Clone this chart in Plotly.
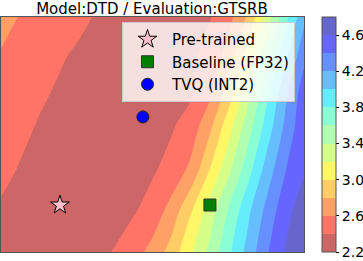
import plotly.graph_objects as go

# ---- data ----
grid_x = [-0.393, -0.267, -0.14, -0.013, 0.113, 0.24, 0.367, 0.493, 0.62,
          0.747, 0.873, 1.0, 1.127, 1.253, 1.38, 1.507, 1.627]
grid_y = [-0.313, -0.033, 0.233, 0.533, 0.72, 0.993, 1.253]

loss_row0 = [2.32, 2.29, 2.27, 2.27, 2.31, 2.36, 2.41, 2.52, 2.67, 2.89, 3.17, 3.45, 3.76, 4.07, 4.38, 4.62, 4.76]
loss_row1 = [2.38, 2.35, 2.32, 2.29, 2.26, 2.30, 2.34, 2.38, 2.48, 2.68, 2.98, 3.30, 3.62, 3.95, 4.26, 4.54, 4.70]
loss_row2 = [2.44, 2.39, 2.35, 2.31, 2.27, 2.27, 2.30, 2.34, 2.38, 2.47, 2.65, 3.01, 3.36, 3.72, 4.09, 4.40, 4.58]
loss_row3 = [2.49, 2.44, 2.39, 2.35, 2.31, 2.27, 2.26, 2.30, 2.34, 2.38, 2.48, 2.75, 3.12, 3.50, 3.88, 4.25, 4.55]
loss_row4 = [2.52, 2.47, 2.42, 2.38, 2.34, 2.30, 2.26, 2.28, 2.32, 2.36, 2.39, 2.58, 2.93, 3.35, 3.78, 4.18, 4.52]
loss_row5 = [2.58, 2.53, 2.48, 2.42, 2.38, 2.34, 2.30, 2.25, 2.29, 2.33, 2.37, 2.46, 2.69, 3.09, 3.53, 3.96, 4.35]
loss_row6 = [2.68, 2.59, 2.54, 2.49, 2.44, 2.39, 2.35, 2.30, 2.25, 2.29, 2.34, 2.39, 2.54, 2.83, 3.29, 3.75, 4.15]

level_start = 2.2
level_end = 4.8
level_step = 0.2
cbar_ticks = [2.2, 2.6, 3.0, 3.4, 3.8, 4.2, 4.6]

point_names = ["Pre-trained", "Baseline (FP32)", "TVQ (INT2)"]
point_x = [0.0, 1.0, 0.553]
point_y = [0.0, 0.0, 0.587]

title_text = "Model:DTD / Evaluation:GTSRB"

# ---- styles ----
band_colors = ["#cd6666", "#ff7466", "#ffa066", "#ffcc66", "#fff766", "#d6ff8a",
               "#b0ffb0", "#8affd6", "#66edfc", "#66beff", "#668fff", "#6666ff", "#6666cd"]

# colorscale for the contour fill (plotly samples band midpoints at (k+1)/(nb+1))
nb = len(band_colors)
fill_scale = [[0.0, band_colors[0]]]
for k, c in enumerate(band_colors):
    fill_scale.append([(k + 1) / (nb + 1), c])
fill_scale.append([1.0, band_colors[-1]])

# stepped colorscale for the colorbar (bands exactly between levels)
bar_scale = []
for k, c in enumerate(band_colors):
    bar_scale.append([k / nb, c])
    bar_scale.append([(k + 1) / nb, c])

point_styles = [
    dict(symbol="star", size=14, color="pink", line=dict(color="black", width=1)),
    dict(symbol="square", size=12, color="green", line=dict(color="#333333", width=1)),
    dict(symbol="circle", size=12, color="blue", line=dict(color="#222222", width=1)),
]

z = [loss_row0, loss_row1, loss_row2, loss_row3, loss_row4, loss_row5, loss_row6]

fig = go.Figure()
fig.add_trace(go.Contour(
    x=grid_x, y=grid_y, z=z,
    colorscale=fill_scale,
    contours=dict(start=level_start, end=level_end, size=level_step, coloring="fill"),
    line=dict(width=0),
    showlegend=False,
    showscale=False,
    hoverinfo="skip",
))

# invisible carrier for the colorbar
fig.add_trace(go.Scatter(
    x=[grid_x[0]], y=[grid_y[0]], mode="markers", showlegend=False, hoverinfo="skip",
    marker=dict(
        size=0.1, opacity=0, color=[level_start], cmin=level_start, cmax=level_end,
        colorscale=bar_scale, showscale=True,
        colorbar=dict(
            x=(322 - 1) / 303, xanchor="left", xpad=0, ypad=0,
            y=0.5, yanchor="middle", len=1, lenmode="fraction",
            thickness=14, outlinewidth=1, outlinecolor="#555555",
            ticks="outside", ticklen=3, tickcolor="#000000",
            tickvals=cbar_ticks, ticktext=[f"{t:.1f}" for t in cbar_ticks],
            tickfont=dict(size=14, color="black"),
        ),
    ),
))

for name, px_, py_, st in zip(point_names, point_x, point_y, point_styles):
    fig.add_trace(go.Scatter(x=[px_], y=[py_], mode="markers", name=name, marker=st,
                             hoverinfo="skip"))

fig.update_layout(
    width=363, height=261,
    margin=dict(l=1, r=59, t=17, b=9, autoexpand=False),
    paper_bgcolor="white", plot_bgcolor="white",
    font=dict(family="DejaVu Sans", size=15, color="black"),
    title=dict(text=title_text, x=152 / 363, xref="container",
               xanchor="center", y=1 - 8.5 / 261, yref="container", yanchor="middle",
               font=dict(size=15, color="black")),
    xaxis=dict(range=[grid_x[0], grid_x[-1]], showticklabels=False, ticks="", showgrid=False,
               zeroline=False, showline=True, mirror=True, linecolor="#555555", linewidth=1),
    yaxis=dict(range=[grid_y[0], grid_y[-1]], showticklabels=False, ticks="", showgrid=False,
               zeroline=False, showline=True, mirror=True, linecolor="#555555", linewidth=1),
    legend=dict(x=(122 - 1) / 303, y=(252 - 22) / 235, xanchor="left", yanchor="top",
                itemwidth=39,
                bgcolor="rgba(255,255,255,0.8)", bordercolor="#cccccc", borderwidth=1,
                font=dict(size=15, color="black")),
)

fig.write_html("out.html", config={"displayModeBar": False},
               post_script="document.body.style.margin='0px';document.body.style.overflow='hidden';")
